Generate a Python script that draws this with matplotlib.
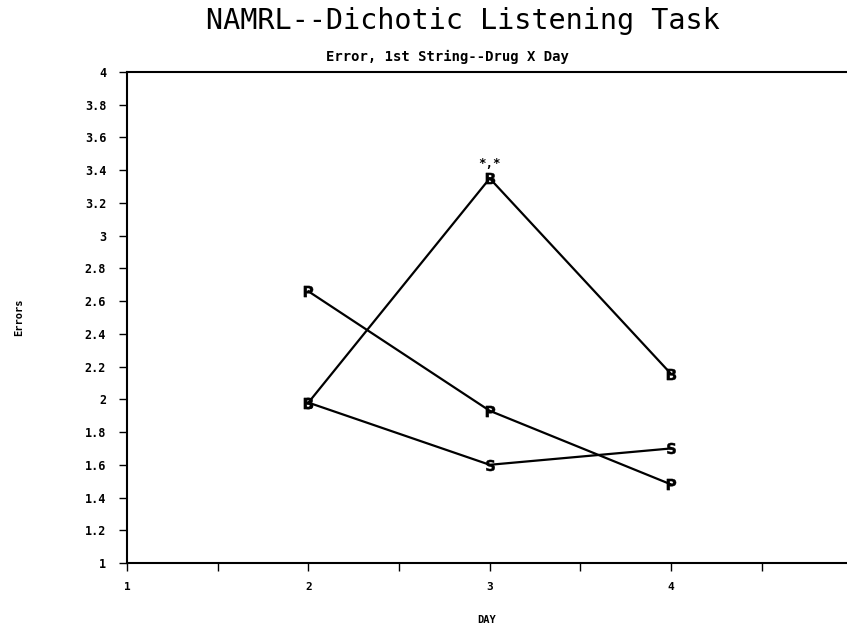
import matplotlib
matplotlib.use("Agg")
import matplotlib.pyplot as plt

days = [2, 3, 4]
placebo = [2.66, 1.93, 1.48]
drug_b = [1.98, 3.35, 2.155]
drug_s = [1.98, 1.60, 1.70]
series = [("P", placebo), ("B", drug_b), ("S", drug_s)]
yticks = [1, 1.2, 1.4, 1.6, 1.8, 2, 2.2, 2.4, 2.6, 2.8, 3, 3.2, 3.4, 3.6, 3.8, 4]
ytick_labels = ["1", "1.2", "1.4", "1.6", "1.8", "2", "2.2", "2.4", "2.6", "2.8",
                "3", "3.2", "3.4", "3.6", "3.8", "4"]
xticks = [1, 2, 3, 4]
xminor = [1.5, 2.5, 3.5, 4.5]
sig_day = 3
sig_value = 3.44

mono = "DejaVu Sans Mono"

fig = plt.figure(figsize=(8.47, 6.25), dpi=100)
ax = fig.add_axes([0.15, 0.0992, 0.85, 0.7856])

for letter, vals in series:
    ax.plot(days, vals, color="black", lw=1.6, marker=f"$\\mathbf{{{letter}}}$",
            markersize=8, markeredgewidth=0.3)

ax.text(sig_day, sig_value, "*,*", ha="center", va="center", fontsize=9,
        fontweight="bold", family=mono)

ax.set_xlim(1, 4.97)
ax.set_ylim(1, 4)
ax.set_xticks(xticks)
ax.set_xticklabels([str(x) for x in xticks], fontsize=8, fontweight="bold", family=mono)
ax.set_xticks(xminor, minor=True)
ax.set_yticks(yticks)
ax.set_yticklabels(ytick_labels, fontsize=8.5, fontweight="bold", family=mono)
ax.tick_params(axis="x", which="both", direction="out", length=6, width=1, pad=8)
ax.tick_params(axis="y", direction="out", length=6, width=1, pad=9)
for s in ["left", "bottom", "top"]:
    ax.spines[s].set_linewidth(1.5)
ax.spines["right"].set_visible(False)

ax.set_xlabel("DAY", fontsize=7.5, fontweight="bold", labelpad=16, family=mono)
ax.set_ylabel("Errors", fontsize=7.5, fontweight="bold", labelpad=44, family=mono)

fig.text(0.546, 0.967, "NAMRL--Dichotic Listening Task", ha="center", va="center",
         fontsize=20.5, family=mono)
fig.text(0.528, 0.909, "Error, 1st String--Drug X Day", ha="center", va="center",
         fontsize=10, fontweight="bold", family=mono)

fig.savefig("out.png", dpi=100)
